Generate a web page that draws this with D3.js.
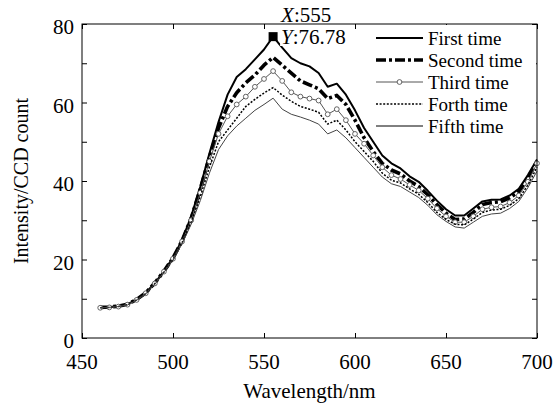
<!DOCTYPE html>
<html lang="en">
  <head>
    <meta charset="UTF-8" />
    <title>Intensity vs Wavelength</title>
    <style>
      body {
        margin: 0;
        background: #fff;
      }
      svg text {
        font-family: "Liberation Serif", "Times New Roman", serif;
        fill: #000;
      }
    </style>
  </head>
  <body>
    <div id="chart"></div>

    <script src="https://d3js.org/d3.v7.min.js"></script>
    <script>
      // wavelengths, every 5 nm from 460 to 700
      const wavelength = d3.range(460, 701, 5);

      const firstTime = [
        7.8, 7.9, 8.1, 8.6, 9.8, 11.5, 14, 17, 20.5, 25, 31, 38.5, 47, 55, 62,
        66.5, 68.5, 71, 73.5, 76.78, 74, 71.3, 70, 69.2, 67.5, 64, 64.8, 62, 58,
        53.5, 50, 46.5, 44.5, 43.2, 41.2, 39.8, 37.5, 35, 32.8, 31.2, 31.2, 33,
        34.8, 35.2, 35.3, 36.3, 38, 41.5, 45.5,
      ];
      const secondTime = [
        7.8, 7.9, 8.1, 8.6, 9.8, 11.5, 14, 17, 20.4, 24.8, 30.5, 38, 46, 53.5,
        59, 62.5, 65, 67, 69.5, 71.5, 69.5, 67.5, 65.5, 64.5, 63.5, 61, 61.8,
        59.5, 55.5, 51, 47.5, 44.5, 42.8, 41.8, 40, 38.6, 36.5, 34, 31.8, 30.2,
        30.3, 32, 34, 34.5, 34.7, 35.7, 37.3, 40.7, 45,
      ];
      const thirdTime = [
        7.7, 7.8, 8, 8.5, 9.7, 11.4, 13.9, 16.9, 20.2, 24.6, 30, 37, 45, 52,
        56.5, 59.5, 61.5, 64, 66, 68, 65.5, 62.6, 61.5, 61, 60.5, 57, 58.3, 55.5,
        52, 49.5, 46.5, 43.5, 41.5, 40.5, 39, 37.6, 35.5, 33, 31, 29.5, 29.5, 31,
        32.8, 33.3, 33.5, 34.5, 36.3, 39.8, 44.5,
      ];
      const forthTime = [
        7.7, 7.8, 8, 8.5, 9.7, 11.3, 13.8, 16.8, 20, 24.3, 29.5, 36, 43.5, 50,
        53, 56, 59, 60.8, 62.4, 63.8, 61.9, 60.3, 59, 58.3, 57.5, 54.5, 55.5, 53,
        50, 47.5, 45, 42, 40.2, 39.5, 38, 36.6, 34.5, 32, 30.2, 29, 28.8, 30.3,
        32, 32.6, 32.8, 33.8, 35.5, 39, 43.5,
      ];
      const fifthTime = [
        7.7, 7.8, 8, 8.4, 9.6, 11.2, 13.7, 16.7, 19.8, 24, 29, 35, 42, 48, 51.5,
        54, 56, 58, 59.5, 61.1, 58.3, 57, 56.3, 55.5, 54.5, 52, 53, 51, 48.5, 46,
        43.5, 41, 39.3, 38.6, 37.2, 35.8, 33.8, 31.4, 29.7, 28.3, 28, 29.5, 31,
        31.6, 31.8, 33, 34.8, 38.3, 42.5,
      ];

      const seriesNames = [
        "First time",
        "Second time",
        "Third time",
        "Forth time",
        "Fifth time",
      ];
      const xTicks = [450, 500, 550, 600, 650, 700];
      const yTicks = [0, 10, 20, 30, 40, 50, 60, 70, 80];
      const yLabels = [0, 20, 40, 60, 80];
      const tipX = 555;
      const tipY = 76.78;

      const width = 559,
        height = 404;
      const margin = { top: 24, right: 22, bottom: 66, left: 82 };
      const innerW = width - margin.left - margin.right;
      const innerH = height - margin.top - margin.bottom;
      const fs = "21px";

      const svg = d3
        .select("#chart")
        .append("svg")
        .attr("width", width)
        .attr("height", height);

      const x = d3.scaleLinear().domain([450, 700]).range([0, innerW]);
      const y = d3.scaleLinear().domain([0, 80]).range([innerH, 0]);

      const g = svg
        .append("g")
        .attr("transform", `translate(${margin.left},${margin.top})`);

      // line styles for each run
      const styles = [
        { stroke: "#000", width: 2, dash: null },
        { stroke: "#000", width: 3.6, dash: "10,3,3,3" },
        { stroke: "#555", width: 1, dash: null, marker: true },
        { stroke: "#000", width: 1.5, dash: "2,1.6" },
        { stroke: "#444", width: 1, dash: null },
      ];
      const allSeries = [firstTime, secondTime, thirdTime, forthTime, fifthTime];

      // inward ticks on all four sides
      const tickLen = 5;
      const axB = d3.axisBottom(x).tickValues(xTicks).tickSizeInner(-tickLen).tickSizeOuter(0).tickFormat("");
      const axT = d3.axisTop(x).tickValues(xTicks).tickSizeInner(-tickLen).tickSizeOuter(0).tickFormat("");
      const axL = d3.axisLeft(y).tickValues(yTicks).tickSizeInner(-tickLen).tickSizeOuter(0).tickFormat("");
      const axR = d3.axisRight(y).tickValues(yTicks).tickSizeInner(-tickLen).tickSizeOuter(0).tickFormat("");

      g.append("g").attr("transform", `translate(0,${innerH})`).call(axB);
      g.append("g").call(axT);
      g.append("g").call(axL);
      g.append("g").attr("transform", `translate(${innerW},0)`).call(axR);
      g.selectAll(".domain").remove();
      g.selectAll(".tick line").attr("stroke", "#000").attr("stroke-width", 1);

      // tick labels
      g.selectAll(".xlab")
        .data(xTicks)
        .enter()
        .append("text")
        .attr("x", (d) => x(d))
        .attr("y", innerH + 31)
        .attr("text-anchor", "middle")
        .style("font-size", fs)
        .text((d) => d);

      g.selectAll(".ylab")
        .data(yLabels)
        .enter()
        .append("text")
        .attr("x", -8)
        .attr("y", (d) => y(d) + 10)
        .attr("text-anchor", "end")
        .style("font-size", fs)
        .text((d) => d);

      // the curves
      const line = d3
        .line()
        .x((d, i) => x(wavelength[i]))
        .y((d) => y(d));

      allSeries.forEach((s, k) => {
        const st = styles[k];
        g.append("path")
          .datum(s)
          .attr("fill", "none")
          .attr("stroke", st.stroke)
          .attr("stroke-width", st.width)
          .attr("stroke-dasharray", st.dash)
          .attr("stroke-linejoin", "round")
          .attr("d", line);
        if (st.marker) {
          g.selectAll(".m" + k)
            .data(s)
            .enter()
            .append("circle")
            .attr("cx", (d, i) => x(wavelength[i]))
            .attr("cy", (d) => y(d))
            .attr("r", 2.4)
            .attr("fill", "#fff")
            .attr("stroke", "#555")
            .attr("stroke-width", 0.9);
        }
      });

      // legend with white background (hides ticks behind it)
      const lgX = 290,
        lgY = 0;
      const legend = g.append("g").attr("transform", `translate(${lgX},${lgY})`);
      legend
        .append("rect")
        .attr("x", 0)
        .attr("y", 1)
        .attr("width", innerW - lgX - 1)
        .attr("height", 110)
        .attr("fill", "#fff");
      seriesNames.forEach((name, k) => {
        const st = styles[k];
        const ly = 14 + k * 22;
        legend
          .append("line")
          .attr("x1", 4)
          .attr("x2", 51)
          .attr("y1", ly)
          .attr("y2", ly)
          .attr("stroke", k == 4 ? "#000" : st.stroke)
          .attr("stroke-width", st.width)
          .attr("stroke-dasharray", st.dash);
        if (st.marker) {
          legend
            .append("circle")
            .attr("cx", 27.5)
            .attr("cy", ly)
            .attr("r", 2.4)
            .attr("fill", "#fff")
            .attr("stroke", "#555")
            .attr("stroke-width", 0.9);
        }
        legend
          .append("text")
          .attr("x", 56)
          .attr("y", ly + 6.5)
          .style("font-size", "19px")
          .text(name);
      });

      // data tip at the peak of the first run
      g.append("rect")
        .attr("x", x(tipX) + 7)
        .attr("y", -22)
        .attr("width", 56)
        .attr("height", 44)
        .attr("fill", "#fff");

      // frame
      g.append("rect")
        .attr("width", innerW)
        .attr("height", innerH)
        .attr("fill", "none")
        .attr("stroke", "#000")
        .attr("stroke-width", 1);

      g.append("rect")
        .attr("x", x(tipX) - 4.5)
        .attr("y", y(tipY) - 4.5)
        .attr("width", 9)
        .attr("height", 9)
        .attr("fill", "#000");

      const tip = g.append("text").style("font-size", fs);
      tip.append("tspan").attr("x", x(tipX) + 8).attr("y", -2).style("font-style", "italic").text("X");
      tip.append("tspan").text(":" + tipX);
      const tip2 = g.append("text").style("font-size", fs);
      tip2.append("tspan").attr("x", x(tipX) + 8).attr("y", 20).style("font-style", "italic").text("Y");
      tip2.append("tspan").text(":" + tipY);

      // axis titles
      svg
        .append("text")
        .attr("x", margin.left + innerW / 2)
        .attr("y", height - 6)
        .attr("text-anchor", "middle")
        .style("font-size", fs)
        .text("Wavelength/nm");

      svg
        .append("text")
        .attr("transform", `translate(28,${margin.top + innerH / 2}) rotate(-90)`)
        .attr("text-anchor", "middle")
        .style("font-size", "20px")
        .text("Intensity/CCD count");
    </script>
  </body>
</html>
